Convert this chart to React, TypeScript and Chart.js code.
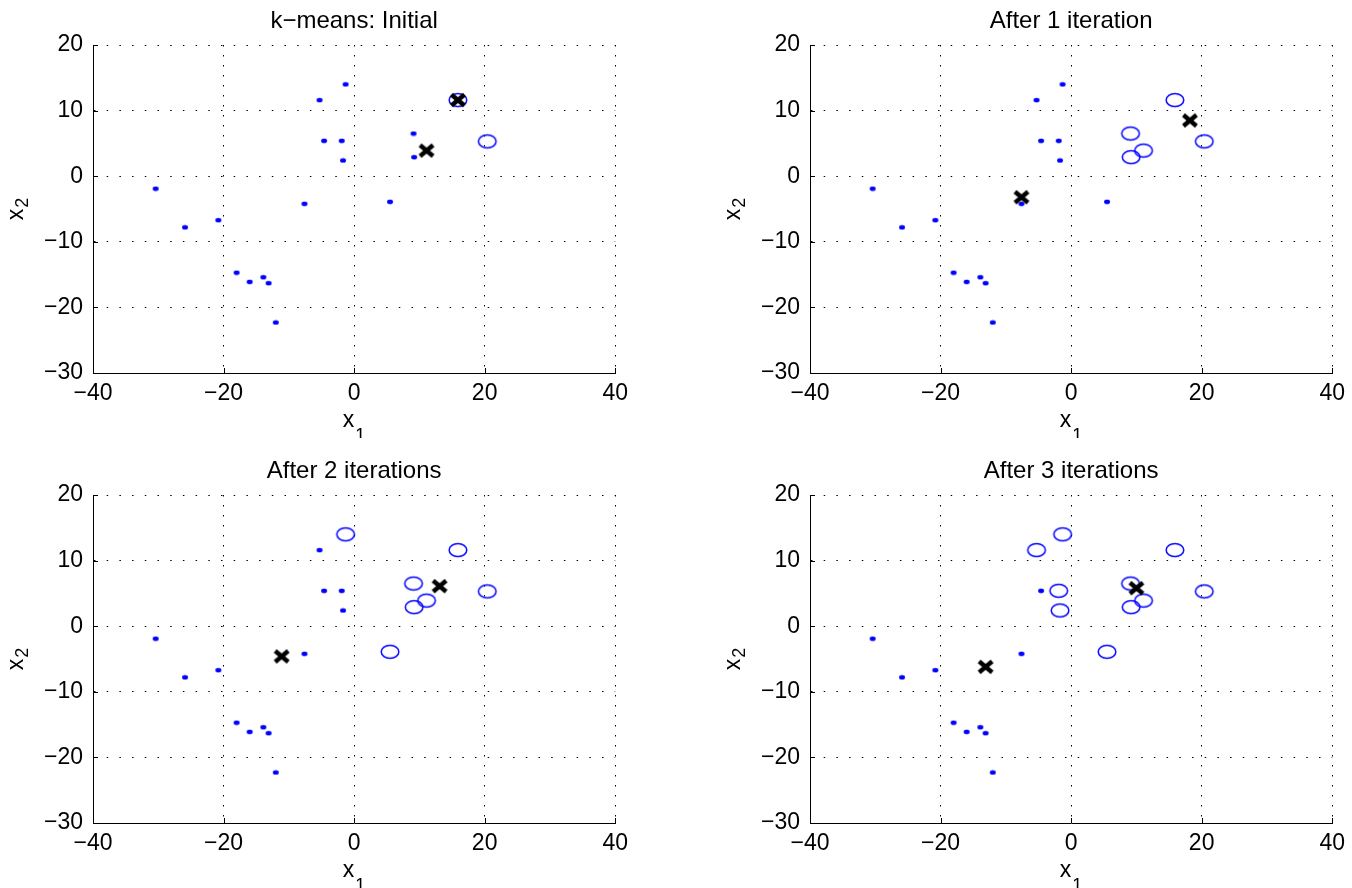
import React, { useEffect, useRef } from "react";
import { Chart, registerables } from "chart.js";

Chart.register(...registerables);

// ---- data ----
const x1Values = [-30.4, -25.9, -20.8, -18.0, -16.0, -13.9, -13.1, -12.0, -7.6, -5.3, -4.6, -1.9, -1.7, -1.3, 5.5, 9.1, 9.2, 11.1, 15.9, 20.4];
const x2Values = [-1.9, -7.8, -6.7, -14.7, -16.1, -15.4, -16.3, -22.3, -4.2, 11.6, 5.4, 5.4, 2.4, 14.0, -3.9, 6.5, 2.9, 3.9, 11.6, 5.3];

// 1 = cluster drawn as dots, 2 = cluster drawn as circles
const assignInitial = [1, 1, 1, 1, 1, 1, 1, 1, 1, 1, 1, 1, 1, 1, 1, 1, 1, 1, 2, 2];
const assignIter1 = [1, 1, 1, 1, 1, 1, 1, 1, 1, 1, 1, 1, 1, 1, 1, 2, 2, 2, 2, 2];
const assignIter2 = [1, 1, 1, 1, 1, 1, 1, 1, 1, 1, 1, 1, 1, 2, 2, 2, 2, 2, 2, 2];
const assignIter3 = [1, 1, 1, 1, 1, 1, 1, 1, 1, 2, 1, 2, 2, 2, 2, 2, 2, 2, 2, 2];

const centroidInitialX = [11.1, 15.9];
const centroidInitialY = [3.9, 11.6];
const centroidIter1X = [-7.6, 18.2];
const centroidIter1Y = [-3.2, 8.5];
const centroidIter2X = [-11.1, 13.1];
const centroidIter2Y = [-4.6, 6.1];
const centroidIter3X = [-13.1, 10.0];
const centroidIter3Y = [-6.2, 5.8];

const panelTitles = ["k\u2212means: Initial", "After 1 iteration", "After 2 iterations", "After 3 iterations"];
const xTicks = [-40, -20, 0, 20, 40];
const yTicks = [-30, -20, -10, 0, 10, 20];
const xLabelMain = "x";
const xLabelSub = "1";
const yLabelMain = "x";
const yLabelSub = "2";

const panelData = [
  { assign: assignInitial, cx: centroidInitialX, cy: centroidInitialY },
  { assign: assignIter1, cx: centroidIter1X, cy: centroidIter1Y },
  { assign: assignIter2, cx: centroidIter2X, cy: centroidIter2Y },
  { assign: assignIter3, cx: centroidIter3X, cy: centroidIter3Y },
];

// ---- layout / style ----
const FONT = "'Liberation Sans', Arial, Helvetica, sans-serif";
const CANVAS_W = 635;
const CANVAS_H = 438;
const positions = [
  { left: 0, top: 0 },
  { left: 717, top: 0 },
  { left: 0, top: 450 },
  { left: 717, top: 450 },
];

function makeCanvas(w: number, h: number, draw: (ctx: CanvasRenderingContext2D) => void) {
  const c = document.createElement("canvas");
  c.width = w;
  c.height = h;
  const ctx = c.getContext("2d")!;
  draw(ctx);
  return c;
}

function makeMarkers() {
  const dot = makeCanvas(8, 6, (ctx) => {
    ctx.fillStyle = "#0000ff";
    ctx.beginPath();
    ctx.ellipse(4, 3, 3.0, 2.3, 0, 0, Math.PI * 2);
    ctx.fill();
  });
  const ring = makeCanvas(22, 18, (ctx) => {
    ctx.strokeStyle = "#0000ff";
    ctx.lineWidth = 1.5;
    ctx.beginPath();
    ctx.ellipse(11, 9, 8.8, 6.5, 0, 0, Math.PI * 2);
    ctx.stroke();
  });
  const cross = makeCanvas(20, 18, (ctx) => {
    ctx.strokeStyle = "#000";
    ctx.lineWidth = 4.5;
    ctx.lineCap = "butt";
    ctx.beginPath();
    ctx.moveTo(3.5, 3.5);
    ctx.lineTo(16.5, 14.5);
    ctx.moveTo(16.5, 3.5);
    ctx.lineTo(3.5, 14.5);
    ctx.stroke();
  });
  return { dot, ring, cross };
}

const fmt = (v: number | string) => String(v).replace("-", "\u2212");

const matlabAxesPlugin = {
  id: "matlabAxes",
  afterDraw(chart: any) {
    const { ctx, chartArea } = chart;
    const { left, right, top, bottom } = chartArea;
    const xs = chart.scales.x;
    const ys = chart.scales.y;
    ctx.save();
    ctx.strokeStyle = "#000";
    ctx.lineWidth = 1;
    ctx.beginPath();
    for (const v of xTicks) {
      const px = Math.round(xs.getPixelForValue(v)) + 0.5;
      ctx.moveTo(px, bottom);
      ctx.lineTo(px, bottom - 5);
    }
    for (const v of yTicks) {
      const py = Math.round(ys.getPixelForValue(v)) + 0.5;
      ctx.moveTo(left, py);
      ctx.lineTo(left + 5, py);
    }
    ctx.stroke();

    ctx.fillStyle = "#000";
    ctx.textBaseline = "alphabetic";
    ctx.textAlign = "left";
    // x label
    ctx.font = `23px ${FONT}`;
    const wx = ctx.measureText(xLabelMain).width;
    ctx.font = `18px ${FONT}`;
    const ws = ctx.measureText(xLabelSub).width;
    const total = wx + 1 + ws;
    const sx = (left + right) / 2 - total / 2;
    ctx.font = `23px ${FONT}`;
    ctx.fillText(xLabelMain, sx, bottom + 54);
    ctx.font = `18px ${FONT}`;
    ctx.fillText(xLabelSub, sx + wx + 1, bottom + 68);

    // y label (rotated)
    ctx.font = `23px ${FONT}`;
    const wy = ctx.measureText(yLabelMain).width;
    ctx.font = `18px ${FONT}`;
    const wys = ctx.measureText(yLabelSub).width;
    const totalY = wy + 1 + wys;
    ctx.translate(23, (top + bottom) / 2);
    ctx.rotate(-Math.PI / 2);
    ctx.font = `23px ${FONT}`;
    ctx.fillText(yLabelMain, -totalY / 2, 0);
    ctx.font = `18px ${FONT}`;
    ctx.fillText(yLabelSub, -totalY / 2 + wy + 1, 5);
    ctx.restore();
  },
};

function Panel({ index }: { index: number }) {
  const ref = useRef<HTMLCanvasElement | null>(null);
  useEffect(() => {
    const canvas = ref.current;
    if (!canvas) return;
    const { dot, ring, cross } = makeMarkers();
    const pd = panelData[index];
    const cluster1 = x1Values
      .map((x, i) => ({ x, y: x2Values[i], c: pd.assign[i] }))
      .filter((p) => p.c === 1)
      .map((p) => ({ x: p.x, y: p.y }));
    const cluster2 = x1Values
      .map((x, i) => ({ x, y: x2Values[i], c: pd.assign[i] }))
      .filter((p) => p.c === 2)
      .map((p) => ({ x: p.x, y: p.y }));
    const centroids = pd.cx.map((x, i) => ({ x, y: pd.cy[i] }));

    const gridCommon = { color: "#000", lineWidth: 1, drawTicks: false };
    const tickFont = { family: FONT, size: 23 };

    const chart = new Chart(canvas, {
      type: "scatter",
      data: {
        datasets: [
          { label: "centroids", data: centroids, pointStyle: cross as any, pointRadius: 8, order: 0 },
          { label: "cluster 2", data: cluster2, pointStyle: ring as any, pointRadius: 8, order: 1 },
          { label: "cluster 1", data: cluster1, pointStyle: dot as any, pointRadius: 3, order: 2 },
        ],
      },
      options: {
        responsive: false,
        animation: false,
        events: [],
        layout: { padding: { left: 0, right: 17, top: 0, bottom: 0 } },
        plugins: {
          legend: { display: false },
          tooltip: { enabled: false },
          title: {
            display: true,
            text: panelTitles[index],
            color: "#000",
            font: { family: FONT, size: 24, weight: "normal" as any },
            padding: { top: 7, bottom: 9.2 },
            fullSize: false,
          },
        },
        scales: {
          x: {
            type: "linear",
            min: -40,
            max: 40,
            afterBuildTicks: (s: any) => {
              s.ticks = xTicks.map((v) => ({ value: v }));
            },
            afterFit: (s: any) => {
              s.height = 65;
            },
            ticks: { font: tickFont, color: "#000", padding: 7, maxRotation: 0, callback: (v: any) => fmt(v) },
            grid: gridCommon,
            border: { display: true, color: "#000", width: 1, dash: [1.5, 8.5] },
          },
          y: {
            type: "linear",
            min: -30,
            max: 20,
            afterBuildTicks: (s: any) => {
              s.ticks = yTicks.map((v) => ({ value: v }));
            },
            afterFit: (s: any) => {
              s.width = 93;
            },
            ticks: { font: tickFont, color: "#000", padding: 10, callback: (v: any) => fmt(v) },
            grid: gridCommon,
            border: { display: true, color: "#000", width: 1, dash: [1.5, 11.2] },
          },
        },
      },
      plugins: [matlabAxesPlugin],
    });
    return () => chart.destroy();
  }, [index]);

  const pos = positions[index];
  return (
    <canvas
      ref={ref}
      width={CANVAS_W}
      height={CANVAS_H}
      style={{ position: "absolute", left: pos.left, top: pos.top, width: CANVAS_W, height: CANVAS_H }}
    />
  );
}

export default function App() {
  return (
    <div style={{ position: "absolute", left: 0, top: 0, width: 1352, height: 888, background: "#fff", overflow: "hidden" }}>
      {[0, 1, 2, 3].map((i) => (
        <Panel key={i} index={i} />
      ))}
    </div>
  );
}
